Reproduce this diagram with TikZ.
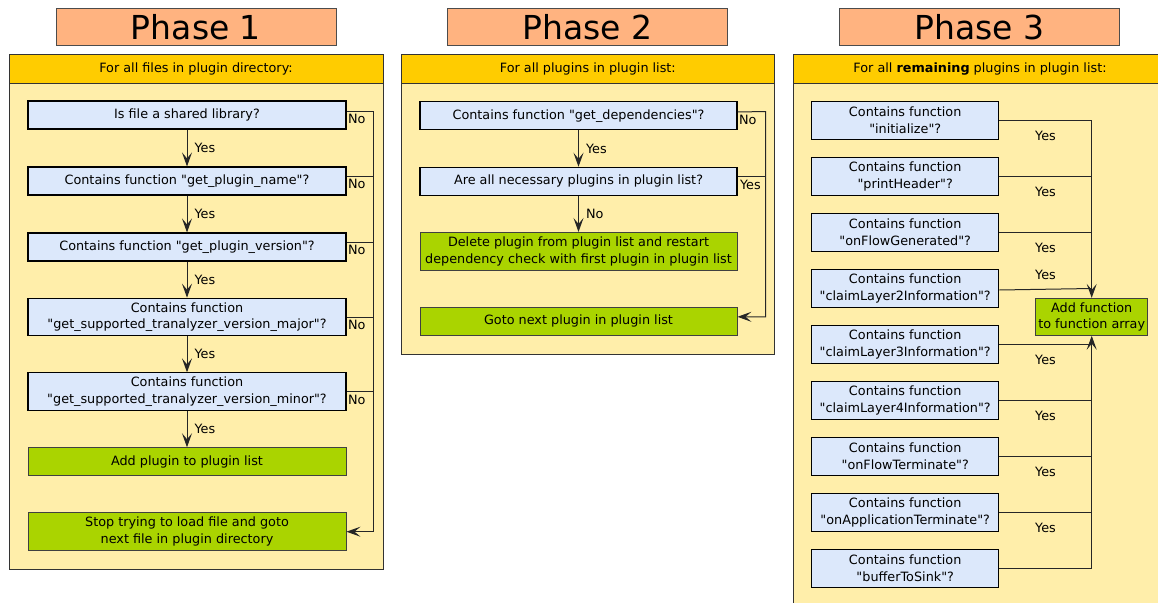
\documentclass[tikz,border=0pt]{standalone}
\usepackage{fontspec}
\setmainfont{DejaVu Sans}[Ligatures=TeXOff]
\usetikzlibrary{arrows.meta}
\definecolor{salmon}{HTML}{FFB380}
\definecolor{gold}{HTML}{FFCC00}
\definecolor{cream}{HTML}{FFEEAA}
\definecolor{qblue}{HTML}{DCE8FB}
\definecolor{agreen}{HTML}{AAD400}
\begin{document}
\begin{tikzpicture}[x=1pt,y=-1pt,
  every node/.style={font=\fontsize{12.8}{16.6}\selectfont, text=black},
  phasebox/.style={draw=black!70, line width=0.8pt, fill=salmon, minimum width=280pt,
    minimum height=37.5pt, inner sep=0pt, font=\fontsize{33}{36}\selectfont},
  panelbody/.style={draw=black!80, line width=1pt, fill=cream},
  panelhead/.style={draw=black!80, line width=1pt, fill=gold},
  query/.style={draw=black, line width=1.1pt, fill=qblue, align=center, inner sep=0pt},
  action/.style={draw=black!75, line width=0.9pt, fill=agreen, align=center, inner sep=0pt},
  wideA/.style={minimum width=318pt},
  wideB/.style={minimum width=317pt},
  narrowC/.style={minimum width=187pt, minimum height=37.6pt},
  oneline/.style={minimum height=28pt},
  twoline/.style={minimum height=37.6pt},
  flow/.style={line width=1pt, draw=black!85},
  arr/.style={flow, -{Stealth[length=14pt,width=10pt,inset=6pt]}},
  lab/.style={inner sep=0pt}
]
\useasboundingbox (0,0) rectangle (1158,602);
\clip (0,0) rectangle (1158,602);

% phase titles
\node[phasebox] (p1) at (196,26.9) {Phase 1};
\node[phasebox] (p2) at (587.7,26.9) {Phase 2};
\node[phasebox] (p3) at (979.3,26.9) {Phase 3};

% panels
\filldraw[panelbody] (9,55) rectangle (383,569);
\filldraw[panelhead] (9,55) rectangle (383,83.3);
\filldraw[panelbody] (401.7,55) rectangle (774,354);
\filldraw[panelhead] (401.7,55) rectangle (774,83.3);
\filldraw[panelbody] (793,55) rectangle (1167,620);
\filldraw[panelhead] (793,55) rectangle (1167,83.3);
\node (h1) at (196,69.2) {For all files in plugin directory:};
\node (h2) at (587.8,69.2) {For all plugins in plugin list:};
\node (h3) at (980,69.2) {For all \textbf{remaining} plugins in plugin list:};

% ---------- Phase 1 ----------
\node[query, wideA, oneline] (a1) at (187,115) {Is file a shared library?};
\node[query, wideA, oneline] (a2) at (187,181) {Contains function "get\_plugin\_name"?};
\node[query, wideA, oneline] (a3) at (187,247) {Contains function "get\_plugin\_version"?};
\node[query, wideA, twoline] (a4) at (187,317) {Contains function\\"get\_supported\_tranalyzer\_version\_major"?};
\node[query, wideA, twoline] (a5) at (187,391.7) {Contains function\\"get\_supported\_tranalyzer\_version\_minor"?};
\node[action, wideA, oneline] (a6) at (187,461.7) {Add plugin to plugin list};
\node[action, wideA, twoline] (a7) at (187,531.7) {Stop trying to load file and goto\\next file in plugin directory};

\draw[arr] (a1) -- (a2) node[lab, midway, right=7pt] {Yes};
\draw[arr] (a2) -- (a3) node[lab, midway, right=7pt] {Yes};
\draw[arr] (a3) -- (a4) node[lab, midway, right=7pt] {Yes};
\draw[arr] (a4) -- (a5) node[lab, midway, right=7pt] {Yes};
\draw[arr] (a5) -- (a6) node[lab, midway, right=7pt] {Yes};

\coordinate (r1) at (373,111);
\draw[arr] ([yshift=4pt]a1.east) -- (r1) node[lab, pos=0, anchor=north west, xshift=1pt, yshift=-2.5pt] {No} |- (a7.east);
\draw[flow] ([yshift=4.5pt]a2.east) -- ([yshift=4.5pt]a2.east -| r1) node[lab, pos=0, anchor=north west, xshift=1pt, yshift=-2.5pt] {No};
\draw[flow] ([yshift=4.5pt]a3.east) -- ([yshift=4.5pt]a3.east -| r1) node[lab, pos=0, anchor=north west, xshift=1pt, yshift=-2.5pt] {No};
\draw[flow] (a4.east) -- (a4.east -| r1) node[lab, pos=0, anchor=north west, xshift=1pt, yshift=-2.5pt] {No};
\draw[flow] (a5.east) -- (a5.east -| r1) node[lab, pos=0, anchor=north west, xshift=1pt, yshift=-2.5pt] {No};

% ---------- Phase 2 ----------
\node[query, wideB, oneline] (b1) at (578.5,115.8) {Contains function "get\_dependencies"?};
\node[query, wideB, oneline] (b2) at (578.5,181.3) {Are all necessary plugins in plugin list?};
\node[action, wideB, twoline] (b3) at (578.5,251.2) {Delete plugin from plugin list and restart\\dependency check with first plugin in plugin list};
\node[action, wideB, oneline] (b4) at (578.5,321.3) {Goto next plugin in plugin list};

\draw[arr] (b1) -- (b2) node[lab, midway, right=7pt] {Yes};
\draw[arr] (b2) -- (b3) node[lab, midway, right=7pt] {No};

\coordinate (r2) at (765.7,111.7);
\draw[arr] ([yshift=4pt]b1.east) -- (r2) node[lab, pos=0, anchor=north west, xshift=1pt, yshift=-2.5pt] {No} |- ([yshift=4.5pt]b4.east);
\draw[flow] ([yshift=4.5pt]b2.east) -- ([yshift=4.5pt]b2.east -| r2) node[lab, pos=0, anchor=north west, xshift=2pt, yshift=-2.5pt] {Yes};

% ---------- Phase 3 ----------
\foreach \name/\fn [count=\k from 0] in {c1/initialize, c2/printHeader, c3/onFlowGenerated,
  c4/claimLayer2Information, c5/claimLayer3Information, c6/claimLayer4Information,
  c7/onFlowTerminate, c8/onApplicationTerminate, c9/bufferToSink}
  \node[query, narrowC] (\name) at (905.2,120.5+56*\k) {Contains function\\"\fn"?};
\node[action, minimum width=112pt, minimum height=37pt] (add) at (1091.7,316.8) {Add function\\to function array};

\coordinate (r3top) at (1091.7,120.5);
\coordinate (r3bot) at (1091.7,568.5);
\draw[arr] (c1.east) -- (r3top) node[lab, midway, below=10pt] {Yes} -- (add.north);
\draw[arr] (c9.east) -- (r3bot) -- (add.south);
\foreach \name in {c2,c3,c5,c6,c7,c8}
  \draw[flow] (\name.east) -- (\name.east -| r3top) node[lab, midway, below=10pt] {Yes};
\draw[flow] ([yshift=-1.5pt]c4.east) -- (c4.east -| r3top) node[lab, midway, above=9.5pt] {Yes};

\end{tikzpicture}
\end{document}
